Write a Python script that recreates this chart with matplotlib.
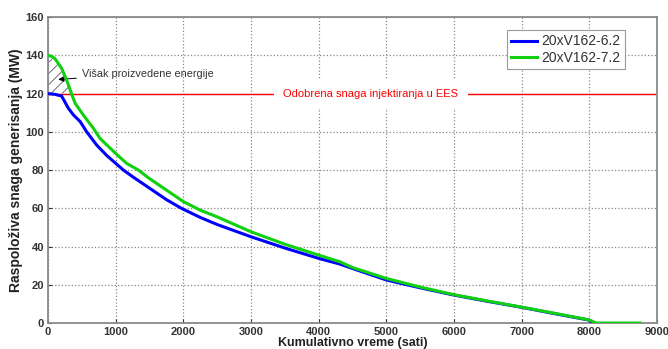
import numpy as np
import matplotlib.pyplot as plt

# Kumulativno vreme (sati) i snaga (MW), ocitano sa slike
x_62 = [0, 100, 200, 300, 375, 475, 570, 720, 870, 1000, 1113, 1250, 1500,
        1750, 1970, 2250, 2500, 3000, 3500, 4000, 4315, 4500, 5000, 5500,
        6000, 6500, 7000, 7500, 8000, 8050]
y_62 = [120, 119.6, 118.7, 112.3, 108.8, 105.3, 100, 93, 87.5, 83.5, 80,
        76.5, 70.5, 64.5, 60, 55.2, 51.5, 45.1, 39.2, 33.8, 30.8, 28.5,
        22.5, 18.4, 14.6, 11.3, 8.2, 4.8, 1.5, 0]

x_72 = [0, 50, 100, 200, 275, 335, 400, 520, 670, 768, 990, 1160, 1335,
        1480, 1750, 2000, 2250, 2500, 3000, 3500, 4000, 4315, 4500, 5000,
        5500, 6000, 6500, 7000, 7500, 8000, 8100, 8750]
y_72 = [140, 139.5, 138.4, 133.2, 127, 121, 114.9, 108.8, 101.8, 96.5, 89,
        83.5, 80, 76, 69.5, 63.5, 59, 55.5, 47.7, 41.2, 35.5, 32, 29, 23.3,
        18.8, 14.8, 11.5, 8.3, 5, 1.6, 0, 0]

odobrena_snaga = 120
x_ticks = list(range(0, 9001, 1000))
y_ticks = list(range(0, 161, 20))

plt.rcParams['font.family'] = ['Liberation Sans', 'DejaVu Sans']
plt.rcParams['hatch.linewidth'] = 0.6

fig = plt.figure(figsize=(6.68, 3.49), dpi=100)
ax = fig.add_axes([0.072, 0.0745, 0.9115, 0.8765])

# Visak energije iznad odobrene snage
xa = np.array(x_72)
ya = np.array(y_72)
ax.fill_between(xa, odobrena_snaga, ya, where=ya >= odobrena_snaga,
                interpolate=True, facecolor='none', edgecolor='0.35',
                hatch='///', linewidth=0)

ax.axhline(odobrena_snaga, color='red', linewidth=1, zorder=2)

ax.plot(x_62, y_62, color='#0000ff', linewidth=2.2, label='20xV162-6.2', zorder=3)
ax.plot(x_72, y_72, color='#10d010', linewidth=2.2, label='20xV162-7.2', zorder=4)

ax.text(4770, odobrena_snaga, 'Odobrena snaga injektiranja u EES', color='red',
        fontsize=8, ha='center', va='center',
        bbox=dict(facecolor='white', edgecolor='none', pad=7), zorder=2.5)

ax.annotate('Višak proizvedene energije', xy=(150, 127.4), xytext=(500, 130.5),
            fontsize=7.8, color='#333333', va='center',
            arrowprops=dict(arrowstyle='-|>', color='black', lw=0.7,
                            shrinkA=2, shrinkB=0, mutation_scale=8))

ax.set_xlim(0, 9000)
ax.set_ylim(0, 160)
ax.set_xticks(x_ticks)
ax.set_yticks(y_ticks)
ax.tick_params(labelsize=8, colors='#333333', length=3, direction='in', pad=3)
for lab in ax.get_xticklabels() + ax.get_yticklabels():
    lab.set_fontweight('bold')
ax.grid(True, linestyle=':', color='#888888', linewidth=0.9)
for s in ax.spines.values():
    s.set_color('#8a8a8a')
    s.set_linewidth(1.3)

ax.set_xlabel('Kumulativno vreme (sati)', fontsize=9, fontweight='bold',
              color='#222222', labelpad=0)
ax.set_ylabel('Raspoloživa snaga generisanja (MW)', fontsize=10,
              fontweight='bold', color='#222222', labelpad=2)

leg = ax.legend(loc='upper right', bbox_to_anchor=(0.947, 0.957), fontsize=10,
                frameon=True, fancybox=False, framealpha=1, handlelength=1.9,
                borderpad=0.3, labelspacing=0.2, handletextpad=0.3,
                borderaxespad=0)
leg.get_frame().set_edgecolor('#999999')
leg.get_frame().set_linewidth(0.8)
for t in leg.get_texts():
    t.set_color('#333333')

fig.savefig('out.png', dpi=100)
